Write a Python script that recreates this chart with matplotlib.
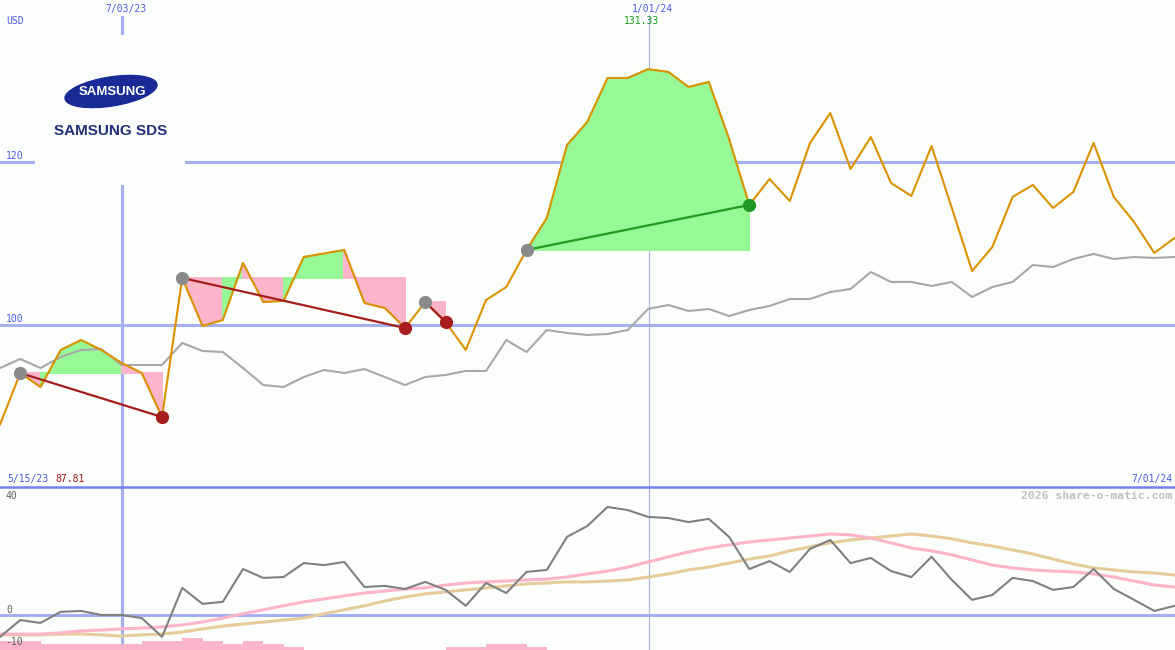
import numpy as np
import matplotlib
matplotlib.use('Agg')
import matplotlib.pyplot as plt
from matplotlib.patches import Ellipse, Rectangle

# weekly close, SAMSUNG SDS (USD), 5/15/23 .. 7/01/24
price = [87.81, 94.12, 92.41, 96.94, 98.16, 96.94, 95.35, 94.12, 88.73, 105.76,
         99.88, 100.61, 107.59, 102.82, 102.94, 108.33, 108.76, 109.19, 102.69, 102.08,
         99.63, 102.82, 100.37, 96.94, 103.06, 104.65, 109.19, 113.10, 122.05, 124.86,
         130.25, 130.25, 131.33, 130.99, 129.15, 129.76, 122.78, 114.70, 117.88, 115.19,
         122.29, 125.96, 119.11, 123.02, 117.39, 115.80, 121.92, 114.33, 106.61, 109.55,
         115.68, 117.15, 114.33, 116.29, 122.29, 115.68, 112.61, 108.82, 110.66]

# comparison index, rescaled to the same axis
benchmark = [94.73, 95.84, 94.73, 96.08, 96.94, 97.06, 95.10, 95.10, 95.10, 97.80,
             96.82, 96.69, 94.73, 92.65, 92.41, 93.63, 94.49, 94.12, 94.61, 93.63,
             92.65, 93.63, 93.88, 94.37, 94.37, 98.16, 96.69, 99.39, 99.02, 98.78,
             98.90, 99.39, 101.96, 102.45, 101.71, 101.96, 101.10, 101.84, 102.33, 103.18,
             103.18, 104.04, 104.41, 106.49, 105.27, 105.27, 104.78, 105.27, 103.43, 104.65,
             105.27, 107.35, 107.10, 108.08, 108.70, 108.08, 108.33, 108.21, 108.33]

# lower panel oscillator and its two averages
osc = [-7.7, -1.8, -2.8, 1.1, 1.4, 0.0, 0.0, -1.1, -7.7, 9.5,
       3.9, 4.6, 16.1, 13.0, 13.3, 18.2, 17.5, 18.6, 9.8, 10.2,
       9.1, 11.6, 8.8, 3.2, 11.2, 7.7, 15.1, 15.8, 27.4, 31.2,
       37.9, 36.8, 34.4, 34.0, 32.6, 33.7, 27.4, 16.1, 18.9, 15.1,
       23.2, 26.3, 18.2, 20.0, 15.4, 13.3, 20.4, 12.3, 5.3, 7.0,
       13.0, 11.9, 8.8, 9.8, 16.1, 9.1, 5.3, 1.4, 3.2]

osc_fast = [-6.7, -6.7, -6.7, -6.3, -5.6, -5.3, -4.9, -4.6, -4.2, -3.5,
            -2.5, -1.1, 0.4, 1.8, 3.2, 4.6, 5.6, 6.7, 7.7, 8.4,
            9.1, 9.5, 10.5, 11.2, 11.6, 11.9, 12.3, 12.6, 13.3, 14.4,
            15.4, 16.8, 18.6, 20.4, 22.1, 23.5, 24.6, 25.6, 26.3, 27.0,
            27.7, 28.4, 28.1, 27.0, 25.3, 23.5, 22.5, 21.1, 19.3, 17.5,
            16.5, 15.8, 15.4, 15.1, 14.4, 13.3, 11.9, 10.5, 9.8]

osc_slow = [-7.0, -7.0, -7.0, -6.7, -6.7, -7.0, -7.4, -7.0, -6.7, -6.0,
            -4.9, -3.9, -3.2, -2.5, -1.8, -1.1, 0.4, 1.8, 3.2, 4.9,
            6.3, 7.4, 8.1, 8.8, 9.5, 10.2, 10.9, 11.2, 11.6, 11.6,
            11.9, 12.3, 13.3, 14.4, 15.8, 16.8, 18.2, 19.6, 20.7, 22.5,
            23.9, 25.3, 26.3, 27.0, 27.7, 28.4, 27.7, 26.7, 25.3, 24.2,
            22.8, 21.4, 19.6, 17.9, 16.5, 15.8, 15.1, 14.7, 14.0]

# small pink blocks along the bottom (one per week)
bars = [3.2, 3.2, 2.1, 2.1, 2.1, 2.1, 2.1, 3.2, 3.2, 4.2,
        3.2, 2.1, 3.2, 2.1, 1.1, 0, 0, 0, 0, 0,
        0, 0, 1.1, 1.1, 2.1, 2.1, 1.1, 0, 0, 0,
        0, 0, 0, 0, 0, 0, 0, 0, 0, 0,
        0, 0, 0, 0, 0, 0, 0, 0, 0, 0,
        0, 0, 0, 0, 0, 0, 0, 0]

# trades: entry week -> exit week
trade_start = [1, 9, 21, 26]
trade_end = [8, 20, 22, 37]

BG = '#fbfefb'
GRID = '#a3b1f2'
PINK = '#fbb5ca'
LGREEN = '#96f996'
BLUE_TXT = '#4a5ae6'
MONO = 'DejaVu Sans Mono'

x = np.arange(len(price))

fig = plt.figure(figsize=(11.75, 6.5), dpi=100)
fig.patch.set_facecolor(BG)

ax = fig.add_axes([0, 163 / 650, 1, 487 / 650])
ax2 = fig.add_axes([0, 0, 1, 163 / 650])
for a in (ax, ax2):
    a.set_axis_off()
    a.set_xlim(0, 58.02)
ax.set_ylim(80.16, 139.8)
ax2.set_ylim(-12.3, 44.9)

# grid
ax.axhline(100, color=GRID, lw=2.2, zorder=1)
ax.axhline(120, color=GRID, lw=2.2, zorder=1)
ax.axvline(6, ymax=1 - 17 / 487, color=GRID, lw=2.2, zorder=1)
ax.axvline(32.05, ymax=1 - 15 / 487, color='#a8b0e6', lw=0.8, zorder=1)

# trade areas, coloured per segment
for s, e in zip(trade_start, trade_end):
    level = price[s]
    for i in range(s, e):
        col = LGREEN if price[i + 1] > level else PINK
        ax.fill([i, i, i + 1, i + 1], [level, price[i], price[i + 1], level],
                facecolor=col, edgecolor=col, lw=0.6, antialiased=False, zorder=2)

ax.plot(x, benchmark, color='#a8a8a8', lw=1.5, zorder=3)
ax.plot(x, price, color='#dc9200', lw=1.5, zorder=4)

for s, e in zip(trade_start, trade_end):
    win = price[e] > price[s]
    lc = '#229a22' if win else '#a51d1d'
    ax.plot([s, e], [price[s], price[e]], color=lc, lw=1.6, zorder=5)
    ax.plot(s, price[s], 'o', color='#8a8a8a', ms=8.5, zorder=6)
    ax.plot(e, price[e], 'o', color=lc, ms=8.5, zorder=6)

# lower panel
ax2.axhline(0, color=GRID, lw=2.2, zorder=1)
ax2.axvline(6, ymin=7 / 163, color=GRID, lw=2.2, zorder=1)
ax2.axvline(32.05, color='#a8b0e6', lw=0.8, zorder=1)
ax2.bar(x[:-1], bars, width=1, align='edge', bottom=-12.3, color=PINK, lw=0,
        antialiased=False, zorder=2)
ax2.plot(x, osc_slow, color='#e6cc9a', lw=2.2, zorder=3)
ax2.plot(x, osc_fast, color='#fbb4c8', lw=2.2, zorder=3)
ax2.plot(x, osc, color='#808080', lw=1.5, zorder=4)

# overlay in pixel units for labels and logo
ov = fig.add_axes([0, 0, 1, 1])
ov.set_xlim(0, 1175)
ov.set_ylim(650, 0)
ov.set_axis_off()
ov.patch.set_alpha(0)

ov.plot([0, 1175], [487, 487], color='#7282ee', lw=1.8)
ov.add_patch(Rectangle((35, 35), 150, 150, color=BG, lw=0))

ov.add_patch(Ellipse((111, 91.5), 93, 29, angle=-9, color='#1a2b98'))
ov.text(112, 92, 'SAMSUNG', color='white', fontsize=9.5, fontweight='bold',
        family='Liberation Sans', ha='center', va='center')
ov.text(111, 131, 'SAMSUNG SDS', color='#1f2f78', fontsize=11, fontweight='bold',
        family='Liberation Sans', ha='center', va='center')

ov.text(6, 21, 'USD', color=BLUE_TXT, fontsize=7, family=MONO, va='center')
ov.text(125.5, 9, '7/03/23', color=BLUE_TXT, fontsize=7, family=MONO, ha='center', va='center')
ov.text(652.5, 9, '1/01/24', color=BLUE_TXT, fontsize=7, family=MONO, ha='center', va='center')
ov.text(641, 21, '131.33', color='#1a9a1a', fontsize=7, family=MONO, ha='center', va='center')
ov.text(6, 156, '120', color=BLUE_TXT, fontsize=7, family=MONO, va='center')
ov.text(6, 319.5, '100', color=BLUE_TXT, fontsize=7, family=MONO, va='center')
ov.text(7, 479, '5/15/23', color=BLUE_TXT, fontsize=7, family=MONO, va='center')
ov.text(55, 479, '87.81', color='#a01818', fontsize=7, family=MONO, va='center')
ov.text(1172, 479, '7/01/24', color=BLUE_TXT, fontsize=7, family=MONO, ha='right', va='center')
ov.text(1172, 496, '2026 share-o-matic.com', color='#c0c0c0', fontsize=8.2, family=MONO,
        fontweight='bold', ha='right', va='center')
ov.text(6, 496, '40', color='#606060', fontsize=7, family=MONO, va='center')
ov.text(6, 610, '0', color='#606060', fontsize=7, family=MONO, va='center')
ov.text(5, 642, '-10', color='#606060', fontsize=7, family=MONO, va='center')

fig.savefig('out.png', dpi=100, facecolor=BG)
